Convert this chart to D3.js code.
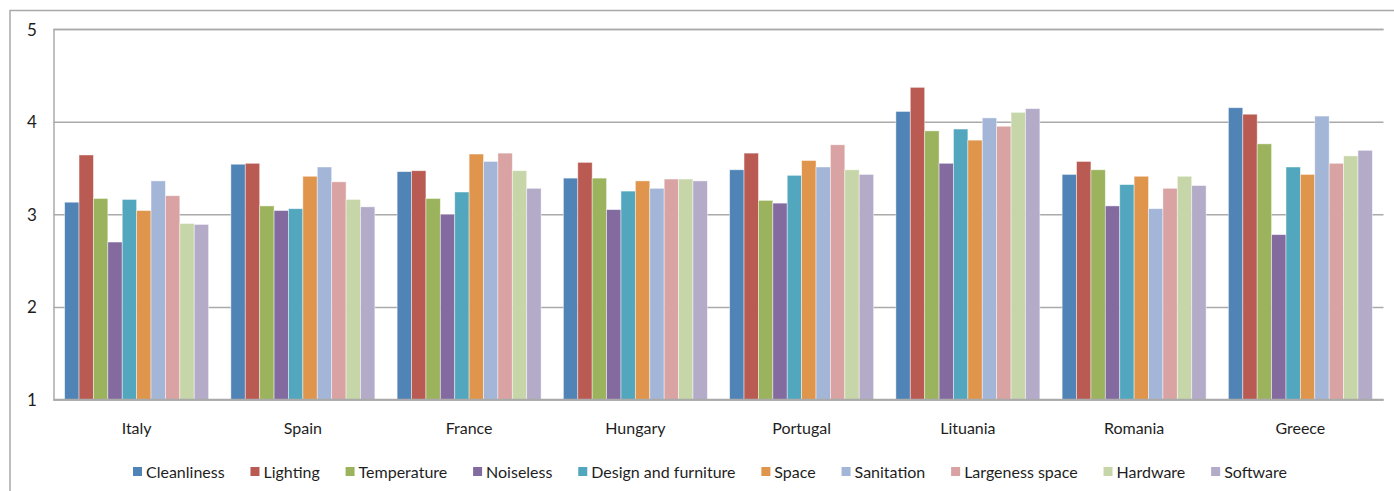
<!DOCTYPE html>
<html>
<head>
<meta charset="utf-8">
<script src="https://cdn.jsdelivr.net/npm/d3@7/dist/d3.min.js"></script>
<style>
  html, body { margin: 0; padding: 0; background: #fff; }
  svg { display: block; }
  text { font-family: Lato, "Open Sans", sans-serif; fill: #1e1e1e; }
</style>
</head>
<body>
<svg id="chart" width="1394" height="491"></svg>
<script>
// Survey scores (1–5) by country and workplace aspect
const countries = ["Italy", "Spain", "France", "Hungary", "Portugal", "Lituania", "Romania", "Greece"];
const seriesNames = ["Cleanliness", "Lighting", "Temperature", "Noiseless", "Design and furniture",
                     "Space", "Sanitation", "Largeness space", "Hardware", "Software"];
const seriesColors = ["#5083b6", "#ba5b53", "#9bb35d", "#836ba0", "#52a7be",
                      "#e0954d", "#a3b6d8", "#d8a3a2", "#c7d6a9", "#b3abc8"];

const cleanliness = [3.13, 3.54, 3.46, 3.39, 3.48, 4.11, 3.43, 4.15];
const lighting    = [3.64, 3.55, 3.47, 3.56, 3.66, 4.37, 3.57, 4.08];
const temperature = [3.17, 3.09, 3.17, 3.39, 3.15, 3.90, 3.48, 3.76];
const noiseless   = [2.70, 3.04, 3.00, 3.05, 3.12, 3.55, 3.09, 2.78];
const design      = [3.16, 3.06, 3.24, 3.25, 3.42, 3.92, 3.32, 3.51];
const space       = [3.04, 3.41, 3.65, 3.36, 3.58, 3.80, 3.41, 3.43];
const sanitation  = [3.36, 3.51, 3.57, 3.28, 3.51, 4.04, 3.06, 4.06];
const largeness   = [3.20, 3.35, 3.66, 3.38, 3.75, 3.95, 3.28, 3.55];
const hardware    = [2.90, 3.16, 3.47, 3.38, 3.48, 4.10, 3.41, 3.63];
const software    = [2.89, 3.08, 3.28, 3.36, 3.43, 4.14, 3.31, 3.69];

const yTicks = [1, 2, 3, 4, 5];

const seriesValues = [cleanliness, lighting, temperature, noiseless, design,
                      space, sanitation, largeness, hardware, software];

const svg = d3.select("#chart");
const plot = { left: 53.5, right: 1383.5, top: 29, bottom: 399.5 };

// outer chart frame
svg.append("path")
  .attr("d", "M10,500 L10,10.5 L1400,10.5")
  .attr("fill", "none").attr("stroke", "#a9a9a9").attr("stroke-width", 1.5);

const y = d3.scaleLinear().domain([1, 5]).range([plot.bottom, plot.top]);
const x0 = d3.scaleBand().domain(countries).range([plot.left, plot.right])
  .paddingInner(0.134).paddingOuter(0.067);
const x1 = d3.scaleBand().domain(seriesNames).range([0, x0.bandwidth()]);

// gridlines
const yAxis = d3.axisLeft(y).tickValues(yTicks).tickSize(-(plot.right - plot.left)).tickFormat("");
const ga = svg.append("g").attr("transform", `translate(${plot.left},0)`).call(yAxis);
ga.selectAll(".tick line").attr("stroke", "#aaaaaa").attr("stroke-width", 1.5);
ga.select(".domain").attr("stroke", "#aaaaaa").attr("stroke-width", 1.5);

// y tick labels
svg.append("g").style("font-size", "17px")
  .selectAll("text").data(yTicks).join("text")
  .attr("x", 32).attr("y", d => y(d) + 6.5)
  .attr("text-anchor", "middle")
  .text(d => d);

// bars
const groups = svg.append("g").selectAll("g").data(countries).join("g")
  .attr("transform", d => `translate(${x0(d)},0)`);
groups.selectAll("rect")
  .data((c, ci) => seriesNames.map((s, si) => ({ s, si, v: seriesValues[si][ci] })))
  .join("rect")
  .attr("x", d => x1(d.s))
  .attr("width", x1.bandwidth())
  .attr("y", d => y(d.v))
  .attr("height", d => y(1) - y(d.v))
  .attr("fill", d => seriesColors[d.si])
  .attr("stroke", "rgba(255,255,255,0.55)")
  .attr("stroke-width", 0.8);

// baseline over bars
svg.append("line")
  .attr("x1", plot.left).attr("x2", plot.right)
  .attr("y1", plot.bottom).attr("y2", plot.bottom)
  .attr("stroke", "#aaaaaa").attr("stroke-width", 1.5);

// category labels
svg.append("g").style("font-size", "16px")
  .selectAll("text").data(countries).join("text")
  .attr("x", d => x0(d) + x0.bandwidth() / 2).attr("y", 434)
  .attr("text-anchor", "middle")
  .text(d => d);

// legend, spread between fixed ends
const legend = svg.append("g").style("font-size", "16px");
const legStart = 133, legEnd = 1287, sw = 9, sgap = 4;
const widths = seriesNames.map(n => {
  const t = legend.append("text").text(n);
  const w = t.node().getComputedTextLength();
  t.remove();
  return w;
});
const total = d3.sum(widths) + seriesNames.length * (sw + sgap);
const gap = (legEnd - legStart - total) / (seriesNames.length - 1);
let lx = legStart;
seriesNames.forEach((n, i) => {
  legend.append("rect").attr("x", lx).attr("y", 467).attr("width", sw).attr("height", sw)
    .attr("fill", seriesColors[i]);
  legend.append("text").attr("x", lx + sw + sgap).attr("y", 478).text(n);
  lx += sw + sgap + widths[i] + gap;
});
</script>
</body>
</html>
